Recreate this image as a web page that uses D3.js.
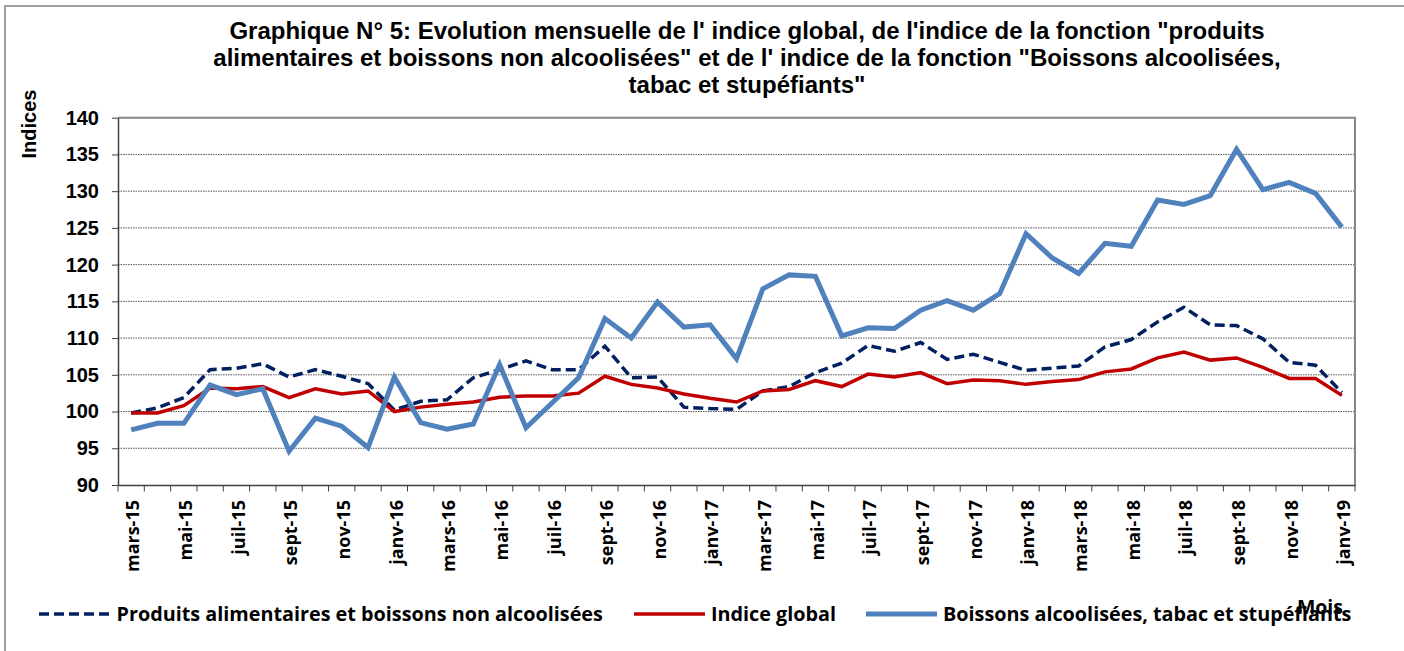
<!DOCTYPE html>
<html>
<head>
<meta charset="utf-8">
<script src="https://cdn.jsdelivr.net/npm/d3@7"></script>
<style>
  body { margin: 0; background: #fff; }
  svg { display: block; }
</style>
</head>
<body>
<svg id="chart" width="1404" height="651"></svg>
<script>
// mois affichés sur l'axe (mars-15 -> janv-19)
var months = [
  "mars-15", "avr-15", "mai-15", "juin-15", "juil-15", "août-15", "sept-15", "oct-15", "nov-15", "déc-15",
  "janv-16", "févr-16", "mars-16", "avr-16", "mai-16", "juin-16", "juil-16", "août-16", "sept-16", "oct-16", "nov-16", "déc-16",
  "janv-17", "févr-17", "mars-17", "avr-17", "mai-17", "juin-17", "juil-17", "août-17", "sept-17", "oct-17", "nov-17", "déc-17",
  "janv-18", "févr-18", "mars-18", "avr-18", "mai-18", "juin-18", "juil-18", "août-18", "sept-18", "oct-18", "nov-18", "déc-18",
  "janv-19"
];

// Produits alimentaires et boissons non alcoolisées
var alimentaires = [
  99.8, 100.5, 101.9, 105.7, 105.9, 106.5, 104.7, 105.7, 104.8, 103.8,
  100.2, 101.4, 101.6, 104.6, 105.7, 106.9, 105.7, 105.7, 108.9, 104.6, 104.7, 100.6,
  100.4, 100.3, 102.8, 103.4, 105.3, 106.6, 109.0, 108.2, 109.4, 107.1, 107.8, 106.7,
  105.6, 105.9, 106.2, 108.8, 109.8, 112.2, 114.2, 111.8, 111.7, 109.9, 106.7, 106.3,
  102.6
];

// Indice global
var global = [
  99.8, 99.8, 100.8, 103.2, 103.1, 103.4, 101.9, 103.1, 102.4, 102.8,
  100.0, 100.6, 101.0, 101.3, 101.95, 102.1, 102.1, 102.5, 104.8, 103.7, 103.2, 102.4,
  101.8, 101.3, 102.8, 103.0, 104.2, 103.4, 105.1, 104.7, 105.3, 103.8, 104.3, 104.2,
  103.7, 104.1, 104.35, 105.4, 105.8, 107.3, 108.1, 107.0, 107.3, 106.0, 104.5, 104.5,
  102.2
];

// Boissons alcoolisées, tabac et stupéfiants
var alcool = [
  97.5, 98.4, 98.4, 103.6, 102.3, 103.1, 94.6, 99.1, 98.0, 95.1,
  104.7, 98.5, 97.6, 98.3, 106.4, 97.8, 101.2, 104.6, 112.65, 110.0, 114.9, 111.5,
  111.8, 107.2, 116.7, 118.6, 118.4, 110.3, 111.4, 111.3, 113.8, 115.1, 113.8, 116.05,
  124.2, 120.9, 118.8, 122.9, 122.5, 128.8, 128.2, 129.4, 135.7, 130.2, 131.2, 129.7,
  125.1
];

var yTicks = [90, 95, 100, 105, 110, 115, 120, 125, 130, 135, 140];

var titleLines = [
  "Graphique N° 5: Evolution mensuelle de l' indice global, de l'indice de la fonction \"produits",
  "alimentaires et boissons non alcoolisées\" et de l' indice de la fonction \"Boissons alcoolisées,",
  "tabac et stupéfiants\""
];

var series = [
  {name: "Produits alimentaires et boissons non alcoolisées", values: alimentaires, color: "#002060", width: 3.5, dash: "10,5"},
  {name: "Indice global", values: global, color: "#C00000", width: 3.5, dash: null},
  {name: "Boissons alcoolisées, tabac et stupéfiants", values: alcool, color: "#4F81BD", width: 5, dash: null}
];

var svg = d3.select("#chart");
var arial = "'Liberation Sans', Arial, sans-serif";
var calib = "'Open Sans', Lato, sans-serif";

var plot = {left: 118, right: 1355, top: 117.7, bottom: 485};

// cadre extérieur
svg.append("rect")
    .attr("x", 5).attr("y", 6)
    .attr("width", 1420).attr("height", 670)
    .attr("fill", "#fff")
    .attr("stroke", "#808080")
    .attr("stroke-width", 1.5);

// titre
svg.append("g").selectAll("text")
    .data(titleLines)
    .enter().append("text")
    .attr("x", 747)
    .attr("y", function(d, i) { return 39 + i * 27; })
    .attr("text-anchor", "middle")
    .style("font-family", arial)
    .style("font-weight", "bold")
    .style("font-size", "24px")
    .text(function(d) { return d; });

var x = d3.scaleBand()
    .domain(months)
    .range([plot.left, plot.right])
    .padding(0);

var y = d3.scaleLinear()
    .domain([90, 140])
    .range([plot.bottom, plot.top]);

var cx = function(i) { return x(months[i]) + x.bandwidth() / 2; };

// grille pointillée
svg.append("g").selectAll("line")
    .data(yTicks.filter(function(v) { return v > 90 && v < 140; }))
    .enter().append("line")
    .attr("x1", plot.left).attr("x2", plot.right)
    .attr("y1", function(v) { return y(v); })
    .attr("y2", function(v) { return y(v); })
    .attr("stroke", "#555")
    .attr("stroke-width", 1)
    .attr("stroke-dasharray", "1.5,1");

// bord haut et droit de la zone
svg.append("path")
    .attr("d", "M" + plot.left + "," + plot.top + "H" + plot.right + "V" + plot.bottom)
    .attr("fill", "none")
    .attr("stroke", "#868686")
    .attr("stroke-width", 2);

// axe Y
var yAxis = svg.append("g")
    .attr("transform", "translate(" + plot.left + ",0)")
    .call(d3.axisLeft(y).tickValues(yTicks).tickSize(6).tickSizeOuter(0).tickPadding(13));
yAxis.select(".domain").attr("stroke", "#404040").attr("stroke-width", 1.5);
yAxis.selectAll(".tick line").attr("stroke", "#404040");
yAxis.selectAll(".tick text")
    .style("font-family", arial)
    .style("font-weight", "bold")
    .style("font-size", "20px")
    .attr("fill", "#000");

// axe X : libellés tous les deux mois
var xAxis = svg.append("g")
    .attr("transform", "translate(0," + plot.bottom + ")")
    .call(d3.axisBottom(x).tickSize(0).tickSizeOuter(0)
        .tickFormat(function(d, i) { return i % 2 === 0 ? d : ""; }));
xAxis.select(".domain").attr("stroke", "#404040").attr("stroke-width", 1.5);
xAxis.selectAll(".tick text")
    .attr("transform", "rotate(-90)")
    .attr("x", -15)
    .attr("y", 2)
    .attr("dy", "0.35em")
    .attr("text-anchor", "end")
    .style("font-family", calib)
    .style("font-weight", "bold")
    .style("font-size", "18px")
    .attr("fill", "#000");

// graduations entre les mois
var bounds = months.map(function(m) { return x(m); }).concat([x.range()[1]]);
svg.append("g").selectAll("line")
    .data(bounds)
    .enter().append("line")
    .attr("x1", function(d) { return d; })
    .attr("x2", function(d) { return d; })
    .attr("y1", plot.bottom)
    .attr("y2", plot.bottom + 6.5)
    .attr("stroke", "#404040")
    .attr("stroke-width", 1);

// courbes
var line = d3.line()
    .x(function(d, i) { return cx(i); })
    .y(function(d) { return y(d); });

svg.append("g").selectAll("path")
    .data(series)
    .enter().append("path")
    .attr("d", function(s) { return line(s.values); })
    .attr("fill", "none")
    .attr("stroke", function(s) { return s.color; })
    .attr("stroke-width", function(s) { return s.width; })
    .attr("stroke-dasharray", function(s) { return s.dash; });

// titre axe Y
svg.append("text")
    .attr("transform", "translate(35.5,124) rotate(-90)")
    .attr("text-anchor", "middle")
    .style("font-family", arial)
    .style("font-weight", "bold")
    .style("font-size", "20px")
    .text("Indices");

// légende
var legendPos = [
  {x1: 39, x2: 109, tx: 116.5},
  {x1: 634, x2: 705, tx: 711},
  {x1: 866, x2: 937, tx: 943}
];
var legend = svg.append("g");
series.forEach(function(s, i) {
    var p = legendPos[i];
    legend.append("line")
        .attr("x1", p.x1).attr("x2", p.x2)
        .attr("y1", 614).attr("y2", 614)
        .attr("stroke", s.color)
        .attr("stroke-width", s.width)
        .attr("stroke-dasharray", s.dash);
    legend.append("text")
        .attr("x", p.tx)
        .attr("y", 620.5)
        .style("font-family", calib)
        .style("font-weight", "bold")
        .style("font-size", "19.8px")
        .text(s.name);
});

// titre axe X
svg.append("text")
    .attr("x", 1343)
    .attr("y", 614)
    .attr("text-anchor", "end")
    .style("font-family", calib)
    .style("font-weight", "bold")
    .style("font-size", "19.5px")
    .text("Mois");
</script>
</body>
</html>
